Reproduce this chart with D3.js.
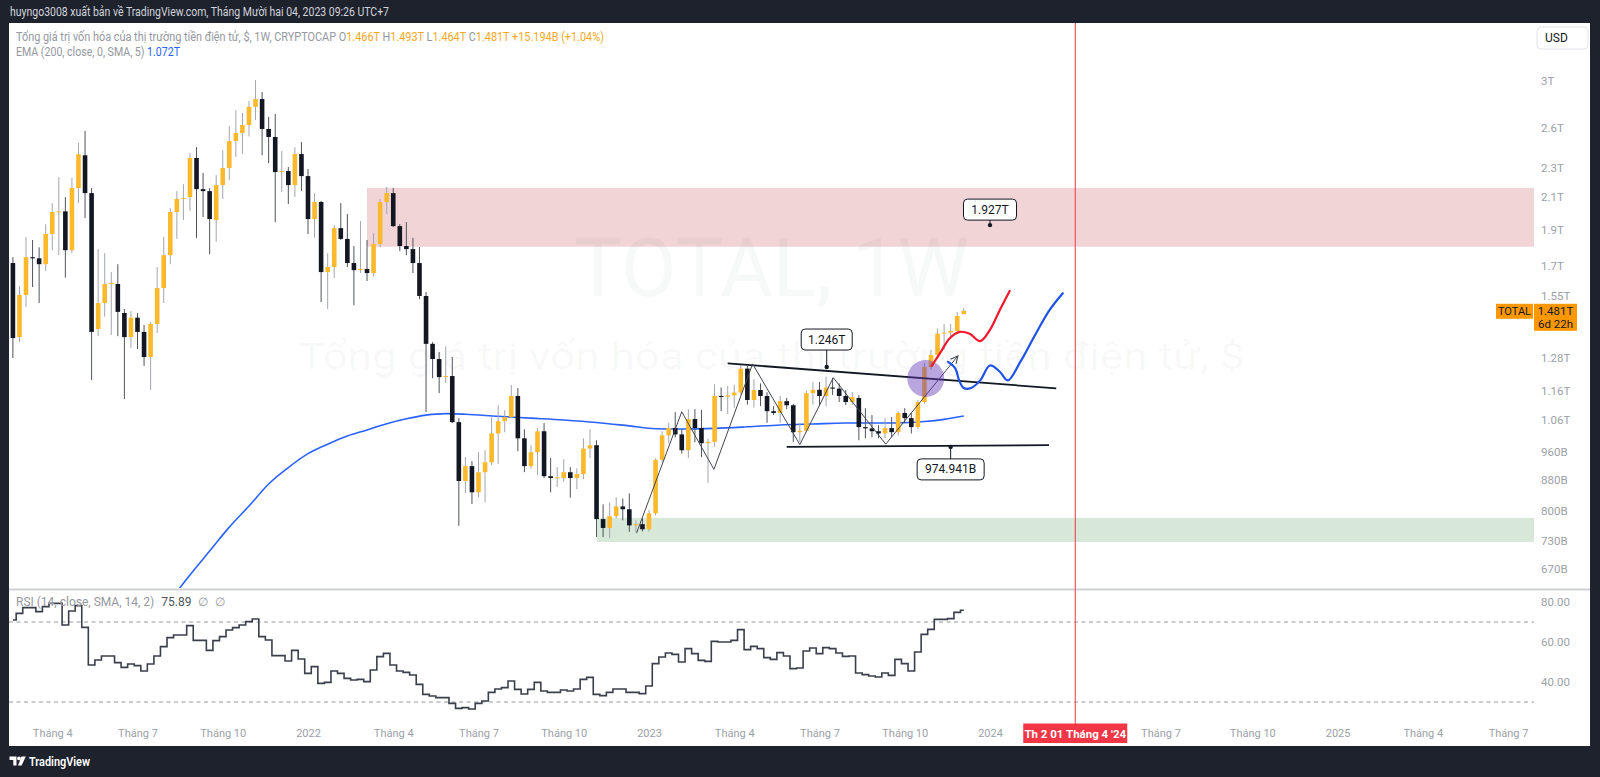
<!DOCTYPE html>
<html>
<head>
<meta charset="utf-8">
<script src="https://cdn.jsdelivr.net/npm/d3@7/dist/d3.min.js"></script>
<style>
  html, body { margin:0; padding:0; background:#1e222d; overflow:hidden; }
  svg { display:block; }
  text { font-family: Roboto, "Liberation Sans", "Noto Sans", sans-serif; }
</style>
</head>
<body>
<svg id="chart" width="1600" height="777"></svg>
<script>
// ---------------- DATA (values in billions USD, weekly bars from 2021-02-22) ----------------
const firstBar = "2021-02-22";
const opens = [1715,1366,1555,1746,1740,1709,1875,2006,2010,1784,
2159,2388,2126,1400,1517,1608,1608,1471,1366,1450,
1388,1285,1422,1588,1757,2006,2088,2100,2368,2152,
2139,1957,2179,2296,2495,2557,2621,2771,2838,2589,
2526,2268,2275,2179,2397,2240,1963,2069,1668,1694,
1909,1847,1715,1678,1684,1663,1818,2069,2126,1921,
1807,1790,1715,1550,1338,1277,1208,1212,1052,878,
919,848,902,930,1016,1055,1068,1140,1001,919,
959,1023,891,886,886,902,886,897,970,980,
781,760,788,812,805,766,769,757,795,937,
1010,1033,1013,965,1062,1033,986,990,1140,1137,
1142,1152,1240,1126,1161,1140,1088,1082,1122,1108,
1020,1025,1150,1162,1140,1170,1166,1140,1119,1133,
1036,1032,1023,1016,1033,1020,1082,1065,1036,1119,
1246,1293,1381,1385,1392,1466];
const highs = [1746,1598,1858,1841,1800,1932,2062,2233,2100,2227,
2480,2573,2159,1790,1768,1668,1709,1489,1480,1471,
1418,1431,1694,1858,2030,2139,2186,2404,2448,2261,
2159,2247,2426,2613,2744,2719,2821,3009,2900,2686,
2711,2419,2303,2448,2487,2289,2126,2075,1768,1927,
2062,1994,1807,1951,1841,1880,2088,2166,2159,1933,
1945,1853,1801,1569,1345,1305,1328,1285,1065,945,
933,959,965,1068,1108,1091,1179,1168,1029,980,
1033,1049,942,916,939,916,913,1001,1029,995,
817,822,835,832,845,778,783,803,941,1023,
1049,1085,1030,1095,1095,1092,1000,1182,1170,1175,
1180,1255,1250,1200,1185,1153,1105,1140,1133,1112,
1050,1160,1190,1190,1210,1205,1185,1161,1154,1143,
1098,1075,1042,1065,1068,1088,1098,1082,1126,1261,
1313,1402,1422,1422,1476,1493];
const lows = [1281,1345,1498,1593,1517,1673,1784,1757,1640,1768,
2062,1969,1197,1370,1454,1375,1370,1129,1321,1317,
1250,1161,1383,1517,1709,1847,1957,2012,1853,1975,
1762,1830,2088,2213,2375,2397,2530,2661,2388,2331,
1945,2133,2056,2100,2139,1875,1853,1521,1489,1638,
1841,1694,1506,1663,1623,1647,1801,1994,1915,1779,
1757,1663,1535,1085,1204,1150,1186,1049,765,846,
818,835,822,922,925,1020,1065,962,902,912,
894,886,848,862,876,834,856,883,942,739,
739,737,783,778,751,751,752,752,790,930,
986,1004,955,942,989,945,873,975,1088,1078,
1100,1145,1110,1100,1105,1050,1075,1050,1095,990,
990,1020,1110,1105,1105,1143,1119,1109,1109,995,
1001,1004,1001,1001,1005,1010,1049,1016,1030,1112,
1235,1280,1313,1362,1388,1464];
const closes = [1362,1555,1746,1740,1709,1875,2006,2010,1784,2159,
2395,2126,1388,1517,1608,1613,1476,1366,1450,1388,
1285,1422,1588,1757,2006,2088,2094,2368,2152,2139,
1963,2179,2296,2495,2557,2621,2771,2838,2589,2526,
2268,2275,2179,2397,2240,1963,2069,1668,1694,1909,
1847,1715,1678,1684,1663,1818,2069,2126,1921,1807,
1790,1715,1550,1338,1277,1208,1212,1052,878,919,
848,902,930,1016,1055,1068,1140,1001,919,959,
1023,891,886,888,902,886,897,970,980,781,
760,788,812,805,766,769,757,795,937,1010,
1033,1013,965,1062,1033,986,990,1140,1137,1142,
1152,1240,1126,1161,1140,1088,1082,1122,1108,1020,
1025,1150,1162,1140,1170,1166,1140,1119,1136,1036,
1032,1023,1016,1033,1020,1082,1065,1036,1119,1246,
1293,1381,1385,1392,1458,1481];
const rsiValues = [71,74.3,77.2,77.2,75.2,77.7,79.3,79.3,68.5,75.5,
78.2,67.3,48.5,51,53,53,49.7,47.3,49,48.2,
45.5,49,53,57.7,62.2,63.5,63.5,68.2,60.8,60.8,
55.8,60.7,62.7,66,67.2,68.5,70.2,71.5,62.7,61,
53.2,53.2,50.5,55.8,51.5,44.3,47.7,39.3,39.8,45.5,
44.3,41.8,41,41.3,40.2,46,52.7,54.3,48.5,45.5,
44.8,43.5,38.8,33.8,33,32.2,32.2,29.3,26.8,27.2,
26.5,29.3,30.5,34.8,36.5,37.2,40.5,36.3,34,36.3,
39.8,35.5,34.8,34.8,36,35.5,36.5,41.3,42.3,33.8,
33.2,34.8,36.5,36.5,34.8,34.8,34.2,38,49.2,52.5,
54.5,53.8,50,56.7,54.2,50.8,50.3,60.3,60,60,
60.8,66.2,56.2,57.8,56.7,52.2,51.3,54.7,53,46.7,
47,55.5,57,54.2,57.2,56.7,54.5,52.8,53,44.5,
43.7,43,42.5,44.5,43.3,51.3,49.2,45.5,55,63.8,
66.3,71.3,71.3,71.7,74.8,75.89];
// EMA(200) read at selected bars (bar index, value)
const emaBars   = [24,27,30,33,36,39,42,45,48,51,54,57,60,63,66,69,74,79,84,89,94,98,102,107,112,117,122,127,132,136,139,142,145];
const emaValues = [609,658,708,762,813,870,915,955,983,1008,1027,1047,1063,1075,1080,1078,1071,1065,1059,1051,1040,1031,1030,1032,1037,1043,1046,1049,1049,1050,1054,1061,1072];
// axis ticks
const priceTicks = [3000,2600,2300,2100,1900,1700,1550,1410,1280,1160,1060,960,880,800,730,670];
const priceTickLabels = ["3T","2.6T","2.3T","2.1T","1.9T","1.7T","1.55T","1.41T","1.28T","1.16T","1.06T","960B","880B","800B","730B","670B"];
const rsiTicks = [80,60,40];
const rsiTickLabels = ["80.00","60.00","40.00"];
const rsiLevels = [70,30];
const timeTickBars = [6,19,32,45,58,71,84,97,110,123,136,149,175,189,202,215,228];
const timeTickLabels = ["Tháng 4","Tháng 7","Tháng 10","2022","Tháng 4","Tháng 7","Tháng 10","2023","Tháng 4","Tháng 7","Tháng 10","2024","Tháng 7","Tháng 10","2025","Tháng 4","Tháng 7"];
// drawings
const resistZone = [54, 2161, 1803];   // from bar, top, bottom
const supportZone = [89.1, 784, 728];
const upperLineBars = [109.0, 159.1], upperLineValues = [1260, 1167];
const lowerLineBars = [118.0, 158.0], lowerLineValues = [975, 980];
const zigBars   = [95.1,102.0,106.9,112.8,120.0,125.1,133.1,144.1];
const zigValues = [748,1086,910,1258,982,1206,983,1289];
const circleBar = 139.2, circleValue = 1203;
const redPathBars   = [140.1,141.4,142.9,144.4,145.9,147.5,149.0,150.5,152.0];
const redPathValues = [1250,1301,1362,1388,1380,1349,1397,1485,1574];
const bluePathBars   = [142.6,143.7,144.3,145.0,146.1,147.5,149.0,150.5,151.7,153.6,155.9,158.1,160.1];
const bluePathValues = [1266,1241,1196,1168,1168,1196,1252,1228,1196,1265,1376,1485,1563];
const labelBars   = [149.0, 124.1, 143.0];
const labelValues = [1927, 1246, 974.941];
const labelTexts  = ["1.927T", "1.246T", "974.941B"];
const markerBar = 162; // 2024-04-01
const markerLabel = "Th 2 01 Tháng 4 '24";
const lastPrice = 1481;

// ---------------- LAYOUT ----------------
const L = 9, R = 1534, AX = 1590, PT = 23, PB = 588, RB = 718, BOT = 746;
const t0 = Date.parse(firstBar + "T00:00:00Z");
const barDate = b => new Date(t0 + b * 7 * 864e5);

const x = d3.scaleUtc()
  .domain([new Date(Date.UTC(2022,0,3)), new Date(Date.UTC(2024,0,1))])
  .range([308, 990]);
const xb = b => x(barDate(b));
const y = d3.scaleLog().domain([670, 3000]).range([569, 81]);
const yR = d3.scaleLinear().domain([40, 80]).range([682, 602]);

const svg = d3.select("#chart");
svg.append("rect").attr("width",1600).attr("height",777).attr("fill","#1e222d");
svg.append("rect").attr("x",L).attr("y",PT).attr("width",AX-L).attr("height",BOT-PT).attr("fill","#ffffff");

const defs = svg.append("defs");
defs.append("clipPath").attr("id","pclip").append("rect").attr("x",L).attr("y",PT).attr("width",R-L).attr("height",PB-PT);
defs.append("clipPath").attr("id","rclip").append("rect").attr("x",L).attr("y",591).attr("width",R-L).attr("height",RB-591);
defs.append("marker").attr("id","arr").attr("viewBox","0 0 10 10").attr("refX",9).attr("refY",5)
  .attr("markerWidth",9).attr("markerHeight",9).attr("orient","auto").attr("markerUnits","userSpaceOnUse")
  .append("path").attr("d","M1,1 L9,5 L1,9").attr("fill","none").attr("stroke","#434651").attr("stroke-width",1.2);

// header
svg.append("text").attr("x",10).attr("y",12).attr("dominant-baseline","central")
  .attr("font-size",12).attr("fill","#d1d4dc").attr("textLength",379).attr("lengthAdjust","spacingAndGlyphs")
  .text("huyngo3008 xuất bản về TradingView.com, Tháng Mười hai 04, 2023 09:26 UTC+7");

// ---------------- PRICE PANE ----------------
const pane = svg.append("g").attr("clip-path","url(#pclip)");

// watermark
pane.append("text").attr("x",(L+R)/2).attr("y",296).attr("text-anchor","middle")
  .attr("font-size",82).attr("fill","rgba(42,46,57,0.035)")
  .attr("textLength",395).attr("lengthAdjust","spacingAndGlyphs").text("TOTAL, 1W");
pane.append("text").attr("x",(L+R)/2).attr("y",369).attr("text-anchor","middle")
  .attr("font-size",37).attr("fill","rgba(42,46,57,0.035)")
  .attr("textLength",946).attr("lengthAdjust","spacingAndGlyphs").text("Tổng giá trị vốn hóa của thị trường tiền điện tử, $");

// zones
pane.append("rect").attr("x",xb(resistZone[0])).attr("y",y(resistZone[1]))
  .attr("width",R - xb(resistZone[0])).attr("height",y(resistZone[2]) - y(resistZone[1]))
  .attr("fill","rgba(178,40,51,0.2)");
pane.append("rect").attr("x",xb(supportZone[0])).attr("y",y(supportZone[1]))
  .attr("width",R - xb(supportZone[0])).attr("height",y(supportZone[2]) - y(supportZone[1]))
  .attr("fill","rgba(56,142,60,0.2)");

// EMA
const emaLine = d3.line().x((d,i)=>xb(emaBars[i])).y(d=>y(d)).curve(d3.curveMonotoneX);
pane.append("path").attr("d",emaLine(emaValues)).attr("fill","none").attr("stroke","#2962ff").attr("stroke-width",1.6);

// candles
const bw = 4.6;
const cg = pane.append("g");
opens.forEach((o,i)=>{
  const c = closes[i], up = c >= o, cx = xb(i);
  cg.append("line").attr("x1",cx).attr("x2",cx).attr("y1",y(highs[i])).attr("y2",y(lows[i]))
    .attr("stroke", up ? "#a3a6af" : "#50535e").attr("stroke-width",1);
  const top = y(Math.max(o,c)), bot = y(Math.min(o,c));
  cg.append("rect").attr("x",cx-bw/2).attr("y",top).attr("width",bw).attr("height",Math.max(1,bot-top))
    .attr("fill", up ? "#fdb92c" : "#131722");
});

// triangle lines
[[upperLineBars,upperLineValues],[lowerLineBars,lowerLineValues]].forEach(([bs,vs])=>{
  pane.append("line").attr("x1",xb(bs[0])).attr("y1",y(vs[0])).attr("x2",xb(bs[1])).attr("y2",y(vs[1]))
    .attr("stroke","#131722").attr("stroke-width",1.8);
});
// zigzag
const zl = d3.line().x((d,i)=>xb(zigBars[i])).y(d=>y(d));
pane.append("path").attr("d",zl(zigValues)).attr("fill","none").attr("stroke","#434651").attr("stroke-width",1)
  .attr("marker-end","url(#arr)");

// circle
pane.append("circle").attr("cx",xb(circleBar)).attr("cy",y(circleValue)).attr("r",18.5)
  .attr("fill","rgba(103,58,183,0.45)");

// hand drawn paths
const rl = d3.line().x((d,i)=>xb(redPathBars[i])).y(d=>y(d)).curve(d3.curveCatmullRom);
pane.append("path").attr("d",rl(redPathValues)).attr("fill","none").attr("stroke","#f2182e").attr("stroke-width",2.2).attr("stroke-linecap","round");
const bl = d3.line().x((d,i)=>xb(bluePathBars[i])).y(d=>y(d)).curve(d3.curveCatmullRom);
pane.append("path").attr("d",bl(bluePathValues)).attr("fill","none").attr("stroke","#1e53e5").attr("stroke-width",2.2).attr("stroke-linecap","round");

// price labels
const lblOff = [5, 17, 12], lblW = [53, 51, 67], lblAbove = [true, true, false];
labelTexts.forEach((t,i)=>{
  const px = xb(labelBars[i]), py = y(labelValues[i]);
  const by = lblAbove[i] ? py - lblOff[i] - 21 : py + lblOff[i];
  pane.append("line").attr("x1",px).attr("x2",px).attr("y1",py).attr("y2", lblAbove[i] ? by+21 : by)
    .attr("stroke","#131722").attr("stroke-width",1);
  pane.append("circle").attr("cx",px).attr("cy",py).attr("r",2.2).attr("fill","#131722");
  pane.append("rect").attr("x",px-lblW[i]/2).attr("y",by).attr("width",lblW[i]).attr("height",21).attr("rx",4)
    .attr("fill","#fff").attr("stroke","#131722").attr("stroke-width",1);
  pane.append("text").attr("x",px).attr("y",by+10.5).attr("text-anchor","middle").attr("dominant-baseline","central")
    .attr("font-size",12).attr("fill","#131722").text(t);
});

// legend
const lg = svg.append("text").attr("x",16).attr("y",36.5).attr("dominant-baseline","central").attr("font-size",12)
  .attr("textLength",588).attr("lengthAdjust","spacingAndGlyphs");
const gray = "#9598a1", orng = "#f9a825";
[["Tổng giá trị vốn hóa của thị trường tiền điện tử, $, 1W, CRYPTOCAP  ",gray],["O",gray],["1.466T  ",orng],["H",gray],["1.493T  ",orng],
 ["L",gray],["1.464T  ",orng],["C",gray],["1.481T  ",orng],["+15.194B (+1.04%)",orng]].forEach(([t,c])=>lg.append("tspan").attr("fill",c).text(t));
const lg2 = svg.append("text").attr("x",16).attr("y",51.5).attr("dominant-baseline","central").attr("font-size",12)
  .attr("textLength",164).attr("lengthAdjust","spacingAndGlyphs");
lg2.append("tspan").attr("fill",gray).text("EMA (200, close, 0, SMA, 5)  ");
lg2.append("tspan").attr("fill","#2962ff").text("1.072T");

// price axis
const pAxis = svg.append("g").attr("transform",`translate(${R},0)`)
  .call(d3.axisRight(y).tickValues(priceTicks).tickFormat((d,i)=>priceTickLabels[i]).tickSize(0).tickPadding(7));
pAxis.select(".domain").remove();
pAxis.selectAll("text").attr("font-size",11.5).attr("fill","#9c9fa8").attr("font-family","Roboto, 'Liberation Sans', sans-serif");

// USD box
svg.append("rect").attr("x",1537).attr("y",27).attr("width",51).attr("height",22).attr("rx",4)
  .attr("fill","#fff").attr("stroke","#e0e3eb");
svg.append("text").attr("x",1545).attr("y",38).attr("dominant-baseline","central").attr("font-size",12).attr("fill","#131722").text("USD");

// last price labels
const lpY = y(lastPrice);
svg.append("rect").attr("x",1496).attr("y",lpY-7).attr("width",37).attr("height",15).attr("fill","#ff9800");
svg.append("text").attr("x",1514.5).attr("y",lpY+0.5).attr("text-anchor","middle").attr("dominant-baseline","central")
  .attr("font-size",11).attr("fill","#131722").text("TOTAL");
svg.append("rect").attr("x",1534).attr("y",lpY-7).attr("width",43).attr("height",27).attr("fill","#ff9800");
svg.append("text").attr("x",1555.5).attr("y",lpY+0.5).attr("text-anchor","middle").attr("dominant-baseline","central")
  .attr("font-size",11.5).attr("fill","#131722").text("1.481T");
svg.append("text").attr("x",1555.5).attr("y",lpY+13).attr("text-anchor","middle").attr("dominant-baseline","central")
  .attr("font-size",11.5).attr("fill","#131722").text("6d 22h");

// separator
svg.append("line").attr("x1",L).attr("x2",AX).attr("y1",589.5).attr("y2",589.5).attr("stroke","#cfd1d7").attr("stroke-width",2);

// ---------------- RSI PANE ----------------
const rp = svg.append("g").attr("clip-path","url(#rclip)");
rsiLevels.forEach(v=>{
  rp.append("line").attr("x1",L).attr("x2",R).attr("y1",yR(v)).attr("y2",yR(v))
    .attr("stroke","#9598a1").attr("stroke-width",1).attr("stroke-dasharray","4,3.5");
});
const rsiLine = d3.line().x((d,i)=>xb(i)).y(d=>yR(d)).curve(d3.curveStep);
rp.append("path").attr("d",rsiLine(rsiValues)).attr("fill","none").attr("stroke","#3b3f4b").attr("stroke-width",1.6);

const rl2 = svg.append("text").attr("x",16).attr("y",602).attr("dominant-baseline","central").attr("font-size",12);
rl2.append("tspan").attr("fill",gray).text("RSI (14, close, SMA, 14, 2)");
rl2.append("tspan").attr("fill","#50535e").attr("dx",7).text("75.89");
rl2.append("tspan").attr("fill",gray).attr("dx",7).text("∅");
rl2.append("tspan").attr("fill",gray).attr("dx",7).text("∅");

const rAxis = svg.append("g").attr("transform",`translate(${R},0)`)
  .call(d3.axisRight(yR).tickValues(rsiTicks).tickFormat((d,i)=>rsiTickLabels[i]).tickSize(0).tickPadding(7));
rAxis.select(".domain").remove();
rAxis.selectAll("text").attr("font-size",11.5).attr("fill","#9c9fa8").attr("font-family","Roboto, 'Liberation Sans', sans-serif");

// ---------------- TIME AXIS ----------------
const tAxis = svg.append("g").attr("transform","translate(0,733)")
  .call(d3.axisBottom(x).tickValues(timeTickBars.map(barDate)).tickFormat((d,i)=>timeTickLabels[i]).tickSize(0).tickPadding(0));
tAxis.select(".domain").remove();
tAxis.selectAll("text").attr("y",0).attr("dy","0.35em").attr("font-size",11).attr("fill","#9c9fa8")
  .attr("font-family","Roboto, 'Liberation Sans', sans-serif");

// red marker
const mx = xb(markerBar);
svg.append("line").attr("x1",mx).attr("x2",mx).attr("y1",PT).attr("y2",724).attr("stroke","#f23645").attr("stroke-width",1);
svg.append("rect").attr("x",mx-52).attr("y",723.5).attr("width",104).attr("height",19.5).attr("fill","#f23645");
svg.append("text").attr("x",mx).attr("y",733.5).attr("text-anchor","middle").attr("dominant-baseline","central")
  .attr("font-size",11.5).attr("font-weight","bold").attr("fill","#fff").text(markerLabel);

// footer logo
const fg = svg.append("g").attr("fill","#ffffff");
fg.append("path").attr("d","M9.5,756.5 h7 v9 h-3.2 v-5.6 h-3.8 z");
fg.append("circle").attr("cx",19).attr("cy",758.4).attr("r",1.9);
fg.append("path").attr("d","M21.5,756.5 h4.3 l-4.2,9 h-3.6 z");
svg.append("text").attr("x",29).attr("y",761.5).attr("dominant-baseline","central").attr("font-size",12.5)
  .attr("font-weight","600").attr("fill","#ffffff").attr("textLength",61).attr("lengthAdjust","spacingAndGlyphs").text("TradingView");
</script>
</body>
</html>
